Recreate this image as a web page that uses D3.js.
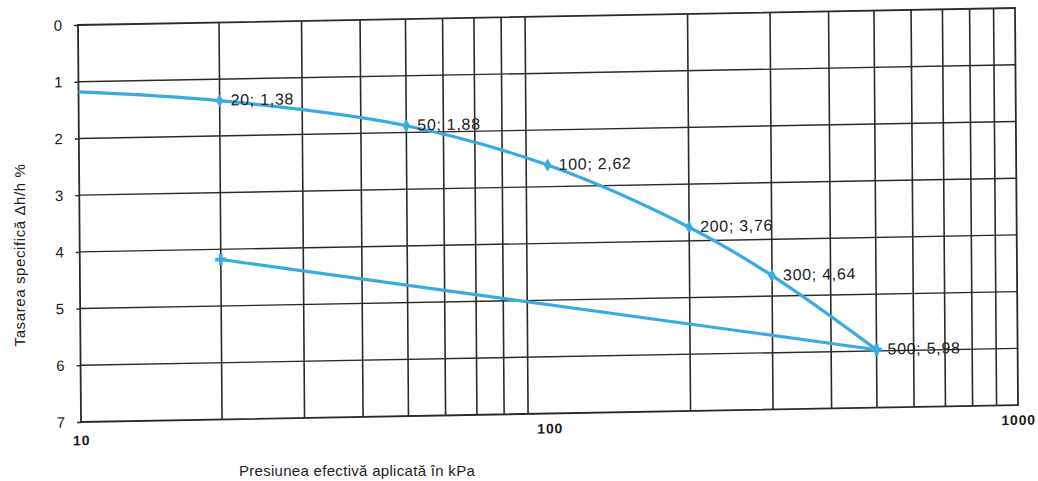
<!DOCTYPE html>
<html><head><meta charset="utf-8">
<script src="https://cdn.jsdelivr.net/npm/d3@7"></script>
<style>
body{margin:0;background:#fff;}
text{font-family:"Liberation Sans",Arial,sans-serif;}
</style></head>
<body><svg id="c" width="1038" height="481"></svg>
<script>
// Data
const loadPressure = [10, 20, 50, 100, 200, 300, 500];
const loadSettlement = [1.18, 1.38, 1.88, 2.62, 3.76, 4.64, 5.98];
const loadLabels = ["", "20; 1,38", "50; 1,88", "100; 2,62", "200; 3,76", "300; 4,64", "500; 5,98"];
const unloadPressure = [500, 20];
const unloadSettlement = [5.98, 4.18];
const xTickValues = [10, 100, 1000];
const yTickValues = [0, 1, 2, 3, 4, 5, 6, 7];
const xGridValues = [20, 30, 40, 50, 60, 70, 80, 90, 200, 300, 400, 500, 600, 700, 800, 900];
const xTitle = "Presiunea efectivă aplicată în kPa";
const yTitle = "Tasarea specifică Δh/h %";

const W = 937, H = 397;
const svg = d3.select("#c");
const g = svg.append("g").attr("transform", "matrix(1,-0.0181,0.0076,1,78,25)");

const x = d3.scaleLog().domain([10, 1000]).range([0, W]);
const y = d3.scaleLinear().domain([0, 7]).range([0, H]);

const gridColor = "#2a2a2a";
// vertical grid
g.selectAll(".vg").data(xGridValues).enter().append("line")
  .attr("x1", d => x(d)).attr("x2", d => x(d)).attr("y1", 0).attr("y2", H)
  .attr("stroke", gridColor).attr("stroke-width", 1.6);
// horizontal grid
g.selectAll(".hg").data(yTickValues.slice(1, -1)).enter().append("line")
  .attr("x1", 0).attr("x2", W).attr("y1", d => y(d)).attr("y2", d => y(d))
  .attr("stroke", gridColor).attr("stroke-width", 1.4);
// border
g.append("rect").attr("x", 0).attr("y", 0).attr("width", W).attr("height", H)
  .attr("fill", "none").attr("stroke", gridColor).attr("stroke-width", 1.8);

// y axis
const ya = g.append("g").call(d3.axisLeft(y).tickValues(yTickValues).tickSize(4).tickPadding(12).tickFormat(d3.format("d")));
ya.select(".domain").remove();
ya.selectAll("line").attr("stroke", gridColor).attr("stroke-width", 1.4);
ya.selectAll("text").attr("font-size", 15).attr("fill", "#1a1a1a").attr("font-family", "Liberation Sans, Arial, sans-serif");

// x axis
const xa = g.append("g").attr("transform", `translate(0,${H})`)
  .call(d3.axisBottom(x).tickValues(xTickValues).tickSize(0).tickPadding(10).tickFormat(d3.format("d")));
xa.select(".domain").remove();
xa.selectAll("text").attr("font-size", 14).attr("font-weight", "bold").attr("letter-spacing", 0.8)
  .attr("fill", "#1a1a1a").attr("font-family", "Liberation Sans, Arial, sans-serif");
xa.selectAll(".tick").filter(d => d === 10).select("text").attr("dy", "0.95em");

const blue = "#3aaae2";
const loadData = loadPressure.map((p, i) => ({p, s: loadSettlement[i], l: loadLabels[i]}));
const unloadData = unloadPressure.map((p, i) => ({p, s: unloadSettlement[i]}));

const line = d3.line().x(d => x(d.p)).y(d => y(d.s)).curve(d3.curveCatmullRom.alpha(0.5));
g.append("path").datum(loadData).attr("d", line).attr("fill", "none")
  .attr("stroke", blue).attr("stroke-width", 3.2);
g.append("path").datum(unloadData).attr("d", d3.line().x(d => x(d.p)).y(d => y(d.s))).attr("fill", "none")
  .attr("stroke", blue).attr("stroke-width", 3.2);

// markers
g.selectAll(".mk").data(loadData.slice(1)).enter().append("path")
  .attr("transform", d => `translate(${x(d.p)},${y(d.s)})`)
  .attr("d", d3.symbol(d3.symbolDiamond, 50)()).attr("fill", blue);
g.selectAll(".mu").data(unloadData).enter().append("path")
  .attr("transform", d => `translate(${x(d.p)},${y(d.s)})`)
  .attr("d", d3.symbol(d3.symbolCross, 70)()).attr("fill", blue);

// data labels
g.selectAll(".lb").data(loadData.filter(d => d.l)).enter().append("text")
  .attr("x", d => x(d.p) + 11).attr("y", d => y(d.s) + 5)
  .attr("font-size", 16).attr("letter-spacing", 0.7).attr("fill", "#222").text(d => d.l);

// titles
svg.append("text").attr("x", 357).attr("y", 476).attr("text-anchor", "middle")
  .attr("font-size", 15).attr("letter-spacing", 0.3).attr("fill", "#222").text(xTitle);
svg.append("text").attr("transform", "translate(25,255) rotate(-90)").attr("text-anchor", "middle")
  .attr("font-size", 15).attr("letter-spacing", 0.6).attr("fill", "#222").text(yTitle);
</script></body></html>
